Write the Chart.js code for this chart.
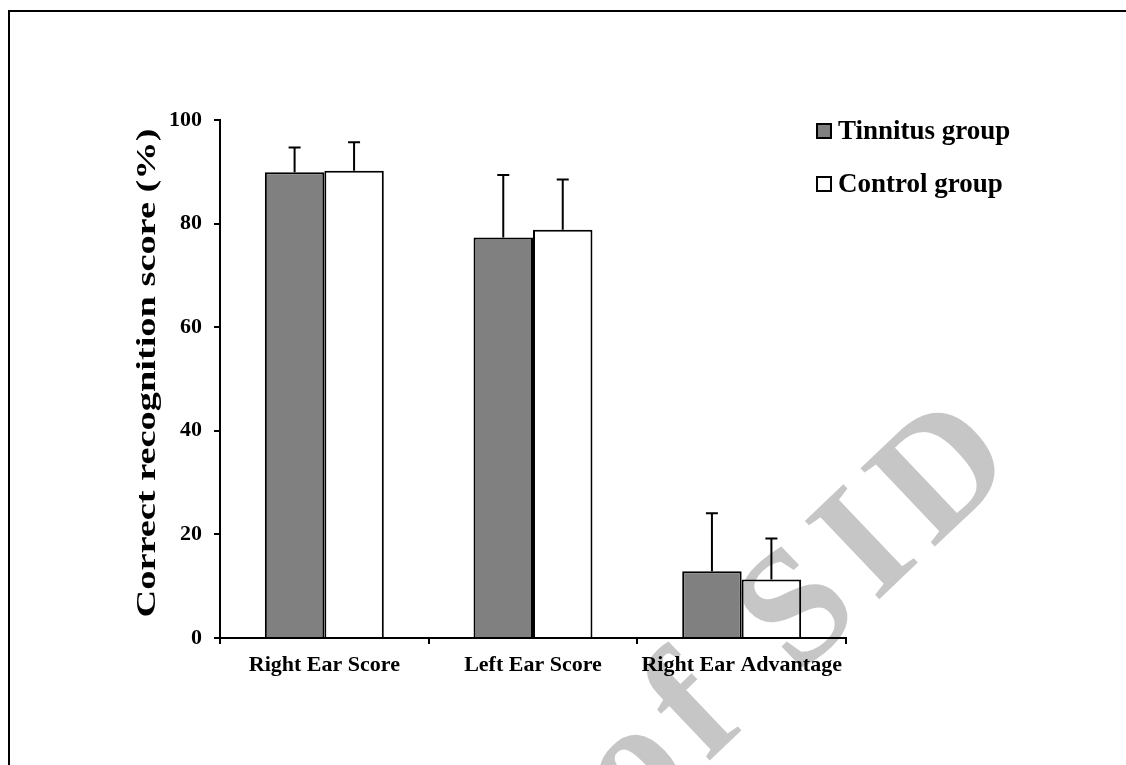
<!DOCTYPE html>
<html>
<head>
<meta charset="utf-8">
<script src="https://cdn.jsdelivr.net/npm/chart.js@4.4.1/dist/chart.umd.min.js"></script>
<style>
    html, body { margin: 0; padding: 0; background: #fff; }
    #wrap { position: relative; width: 1126px; height: 765px; overflow: hidden; }
    #frame { position: absolute; left: 8px; top: 10px; width: 1200px; height: 900px; border: 2px solid #000; }
    canvas { position: absolute; left: 0; top: 0; }
</style>
</head>
<body>
<div id="wrap">
    <div id="frame"></div>
    <canvas id="chart" width="1126" height="765"></canvas>
</div>
<script>
const categories = ['Right Ear Score', 'Left Ear Score', 'Right Ear Advantage'];
const seriesNames = ['Tinnitus group', 'Control group'];
const tinnitusMean = [89.9, 77.3, 12.9];
const tinnitusSD = [4.8, 12.1, 11.2];
const controlMean = [90.2, 78.8, 11.3];
const controlSD = [5.5, 9.7, 7.9];
const yTicks = [0, 20, 40, 60, 80, 100];
const yTitle = 'Correct recognition score (%)';

const serif = "'Liberation Serif', 'Times New Roman', serif";

// upward-only error bars with a cap
const errorBars = {
    id: 'errorBars',
    afterDatasetsDraw(chart) {
        const ctx = chart.ctx;
        const y = chart.scales.y;
        chart.data.datasets.forEach((ds, i) => {
            const meta = chart.getDatasetMeta(i);
            meta.data.forEach((bar, j) => {
                const top = y.getPixelForValue(ds.data[j] + ds.errors[j]);
                ctx.save();
                ctx.strokeStyle = '#000';
                ctx.lineWidth = 2;
                ctx.beginPath();
                ctx.moveTo(bar.x, bar.y);
                ctx.lineTo(bar.x, top);
                ctx.moveTo(bar.x - 6, top);
                ctx.lineTo(bar.x + 6, top);
                ctx.stroke();
                ctx.restore();
            });
        });
    }
};

// the axis title in the original is set in a wide face, so stretch it along its length
const wideTitle = {
    id: 'wideTitle',
    afterDraw(chart) {
        const ctx = chart.ctx;
        const area = chart.chartArea;
        ctx.save();
        ctx.translate(148, (area.top + area.bottom) / 2 - 6);
        ctx.rotate(-Math.PI / 2);
        ctx.scale(1.37, 1);
        ctx.font = 'bold 28px ' + serif;
        ctx.fillStyle = '#000';
        ctx.textAlign = 'center';
        ctx.textBaseline = 'middle';
        ctx.fillText(yTitle, 0, 0);
        ctx.restore();
    }
};

// legend sits over the right end of the plot, so it's drawn by hand
const sideLegend = {
    id: 'sideLegend',
    afterDraw(chart) {
        const ctx = chart.ctx;
        const left = chart.chartArea.right - 29;
        ctx.save();
        ctx.font = 'bold 27px ' + serif;
        ctx.textBaseline = 'middle';
        chart.data.datasets.forEach((ds, i) => {
            const cy = 131 + i * 53;
            ctx.fillStyle = ds.backgroundColor;
            ctx.fillRect(left, cy - 7, 14, 14);
            ctx.strokeStyle = '#000';
            ctx.lineWidth = 2;
            ctx.strokeRect(left, cy - 7, 14, 14);
            ctx.fillStyle = '#000';
            ctx.fillText(ds.label, left + 21, cy + 1);
        });
        ctx.restore();
    }
};

// faint archive watermark running across the lower right
const watermark = {
    id: 'watermark',
    afterDraw(chart) {
        const ctx = chart.ctx;
        ctx.save();
        ctx.globalCompositeOperation = 'darken';
        ctx.fillStyle = '#c6c6c6';
        ctx.font = 'bold 165px ' + serif;
        ctx.letterSpacing = '15px';
        ctx.textAlign = 'right';
        ctx.textBaseline = 'alphabetic';
        ctx.translate(1030, 456);
        ctx.rotate(-0.76);
        ctx.fillText('Archive of SID', 0, 0);
        ctx.restore();
    }
};

new Chart(document.getElementById('chart'), {
    type: 'bar',
    data: {
        labels: categories,
        datasets: [{
            label: seriesNames[0],
            data: tinnitusMean,
            errors: tinnitusSD,
            backgroundColor: '#808080',
            borderColor: '#000',
            borderWidth: 2
        }, {
            label: seriesNames[1],
            data: controlMean,
            errors: controlSD,
            backgroundColor: '#ffffff',
            borderColor: '#000',
            borderWidth: 2
        }]
    },
    options: {
        responsive: false,
        animation: false,
        categoryPercentage: 0.57,
        barPercentage: 1,
        layout: { padding: { left: 128, right: 280, top: 120, bottom: 67 } },
        plugins: {
            legend: { display: false },
            tooltip: { enabled: false }
        },
        scales: {
            x: {
                grid: { offset: true, drawOnChartArea: false, tickLength: 6, color: '#000', lineWidth: 2 },
                border: { color: '#000', width: 2 },
                ticks: { color: '#000', padding: 8, font: { family: serif, size: 22, weight: 'bold' } },
                afterFit(s) { s.height = 60; }
            },
            y: {
                min: 0,
                max: 100,
                afterBuildTicks(s) { s.ticks = yTicks.map(v => ({ value: v })); },
                grid: { drawOnChartArea: false, tickLength: 6, color: '#000', lineWidth: 2 },
                border: { color: '#000', width: 2 },
                ticks: { color: '#000', padding: 12, font: { family: serif, size: 22, weight: 'bold' } },
                afterFit(s) { s.width = 92; }
            }
        }
    },
    plugins: [errorBars, wideTitle, sideLegend, watermark]
});
</script>
</body>
</html>
